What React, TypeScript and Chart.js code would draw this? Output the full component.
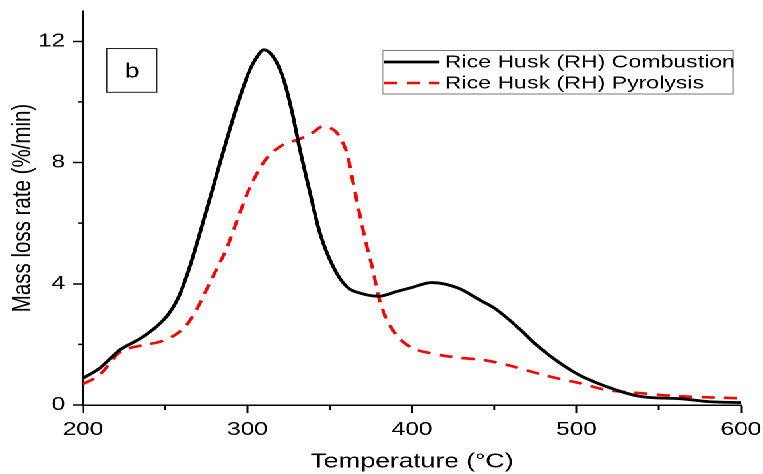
import React, { useEffect, useRef } from "react";
import { Chart, registerables } from "chart.js";

Chart.register(...registerables);

const combTemp = [200, 210, 222, 235, 245, 252, 258, 265, 272, 281, 289, 295, 301, 306, 310, 316, 322, 327, 332, 338, 344, 352, 360, 370, 380, 391, 400, 412, 428, 441, 450, 466, 474, 482, 498, 505, 518, 539, 565, 580, 600];
const combRate = [0.88, 1.21, 1.8, 2.2, 2.6, 3.0, 3.55, 4.57, 5.85, 7.55, 9.05, 10.1, 11.0, 11.5, 11.72, 11.46, 10.74, 9.7, 8.4, 7.0, 5.68, 4.57, 3.92, 3.67, 3.59, 3.75, 3.88, 4.04, 3.86, 3.47, 3.2, 2.48, 2.06, 1.7, 1.1, 0.9, 0.61, 0.28, 0.2, 0.11, 0.08];

const pyroTemp = [200, 210, 222, 235, 245, 250, 257, 263, 269, 275, 281, 287, 292, 300, 306, 312, 322, 332, 340, 346, 350, 354, 358, 361, 364, 368, 372, 376, 380, 387, 397, 413, 429, 445, 460, 476, 490, 502, 518, 539, 559, 600];
const pyroRate = [0.69, 0.99, 1.72, 1.96, 2.06, 2.15, 2.35, 2.64, 3.14, 3.8, 4.46, 5.12, 5.84, 7.0, 7.66, 8.16, 8.6, 8.78, 9.0, 9.2, 9.15, 9.0, 8.65, 8.2, 7.4, 6.34, 5.35, 4.5, 3.5, 2.59, 1.98, 1.69, 1.56, 1.47, 1.29, 1.05, 0.86, 0.72, 0.5, 0.39, 0.3, 0.22];

const seriesLabels = ["Rice Husk (RH) Combustion", "Rice Husk (RH) Pyrolysis"];
const xTicks = [200, 300, 400, 500, 600];
const xMinorTicks = [250, 350, 450, 550];
const yTicks = [0, 4, 8, 12];
const yMinorTicks = [2, 6, 10];
const panelLabel = "b";
const xTitle = "Temperature (°C)";
const yTitle = "Mass loss rate (%/min)";

const W = 578;
const H = 474;
const STRETCH = 763 / W;
const FONT = '"Liberation Sans", Arial, sans-serif';
const DASH = [10, 7];

const overlay = {
  id: "overlay",
  afterDraw(chart: any) {
    const { ctx, chartArea, scales } = chart;
    const xs = scales.x;
    const ys = scales.y;
    ctx.save();
    ctx.strokeStyle = "#000";
    ctx.lineWidth = 1.5;
    ctx.beginPath();
    xMinorTicks.forEach((v) => {
      const px = xs.getPixelForValue(v);
      ctx.moveTo(px, chartArea.bottom);
      ctx.lineTo(px, chartArea.bottom + 5);
    });
    yMinorTicks.forEach((v) => {
      const py = ys.getPixelForValue(v);
      ctx.moveTo(chartArea.left, py);
      ctx.lineTo(chartArea.left - 3.8, py);
    });
    ctx.stroke();

    ctx.lineWidth = 1;
    ctx.strokeStyle = "#222";
    ctx.strokeRect(80.8, 48.5, 37.9, 43.8);
    ctx.fillStyle = "#000";
    ctx.font = `20px ${FONT}`;
    ctx.textAlign = "center";
    ctx.textBaseline = "middle";
    ctx.fillText(panelLabel, 100, 72);

    ctx.strokeStyle = "#777";
    ctx.lineWidth = 1;
    ctx.strokeRect(290.2, 50.5, 265.1, 43.5);
    const rows = [62, 83];
    chart.data.datasets.forEach((ds: any, i: number) => {
      const y = rows[i];
      ctx.save();
      ctx.strokeStyle = ds.borderColor;
      ctx.lineWidth = ds.borderWidth;
      ctx.setLineDash(ds.borderDash || []);
      ctx.beginPath();
      ctx.moveTo(291, y);
      ctx.lineTo(332.6, y);
      ctx.stroke();
      ctx.restore();
      ctx.fillStyle = "#000";
      ctx.font = `17.5px ${FONT}`;
      ctx.textAlign = "left";
      ctx.textBaseline = "middle";
      ctx.fillText(ds.label, 337, y + 0.5);
    });
    ctx.restore();
  },
};

export default function App() {
  const ref = useRef<HTMLCanvasElement | null>(null);
  useEffect(() => {
    if (!ref.current) return;
    const chart = new Chart(ref.current, {
      type: "line",
      data: {
        datasets: [
          {
            label: seriesLabels[0],
            data: combTemp.map((t, i) => ({ x: t, y: combRate[i] })),
            borderColor: "#000000",
            borderWidth: 2.8,
            pointRadius: 0,
            cubicInterpolationMode: "monotone",
            fill: false,
          },
          {
            label: seriesLabels[1],
            data: pyroTemp.map((t, i) => ({ x: t, y: pyroRate[i] })),
            borderColor: "#ff0000",
            borderWidth: 2.6,
            borderDash: DASH,
            pointRadius: 0,
            cubicInterpolationMode: "monotone",
            fill: false,
          },
        ],
      },
      options: {
        animation: false,
        responsive: false,
        devicePixelRatio: 2,
        layout: { padding: { top: 11, right: W - 741 / STRETCH, left: 0, bottom: 0 } },
        plugins: { legend: { display: false }, tooltip: { enabled: false } },
        scales: {
          x: {
            type: "linear",
            min: 200,
            max: 600,
            afterBuildTicks: (scale: any) => {
              scale.ticks = xTicks.map((v) => ({ value: v }));
            },
            afterFit: (scale: any) => {
              scale.height = H - 405;
              scale.paddingTop = 0;
              scale.paddingBottom = 0;
              scale.paddingLeft = 0;
              scale.paddingRight = 0;
            },
            ticks: {
              color: "#000",
              font: { family: FONT, size: 18.5 },
              padding: 6,
              maxRotation: 0,
            },
            grid: {
              display: true,
              drawOnChartArea: false,
              drawTicks: true,
              tickLength: 8,
              tickWidth: 1.5,
              tickColor: "#000",
              color: "#000",
            },
            border: { display: true, color: "#000", width: 1.5 },
            title: {
              display: true,
              text: xTitle,
              color: "#000",
              font: { family: FONT, size: 20, lineHeight: 1.2 },
              padding: { top: 0, bottom: 0 },
            },
          },
          y: {
            type: "linear",
            min: 0,
            max: 13,
            afterBuildTicks: (scale: any) => {
              scale.ticks = yTicks.map((v) => ({ value: v }));
            },
            afterFit: (scale: any) => {
              scale.width = 83 / STRETCH;
              scale.paddingTop = 0;
              scale.paddingBottom = 0;
              scale.paddingLeft = 0;
              scale.paddingRight = 0;
            },
            ticks: {
              color: "#000",
              font: { family: FONT, size: 18.5 },
              padding: 6,
            },
            grid: {
              display: true,
              drawOnChartArea: false,
              drawTicks: true,
              tickLength: 7.4,
              tickWidth: 1.5,
              tickColor: "#000",
              color: "#000",
            },
            border: { display: true, color: "#000", width: 1.5 },
            title: {
              display: true,
              text: yTitle,
              color: "#000",
              font: { family: FONT, size: 20.5, lineHeight: 1.2 },
              padding: { top: 5, bottom: 0 },
            },
          },
        },
      },
      plugins: [overlay],
    } as any);
    return () => chart.destroy();
  }, []);

  return (
    <div
      style={{
        position: "absolute",
        left: 0,
        top: 0,
        width: W,
        height: H,
        transform: `scaleX(${STRETCH})`,
        transformOrigin: "0 0",
        background: "#fff",
      }}
    >
      <canvas ref={ref} width={W} height={H} style={{ width: W, height: H }} />
    </div>
  );
}
